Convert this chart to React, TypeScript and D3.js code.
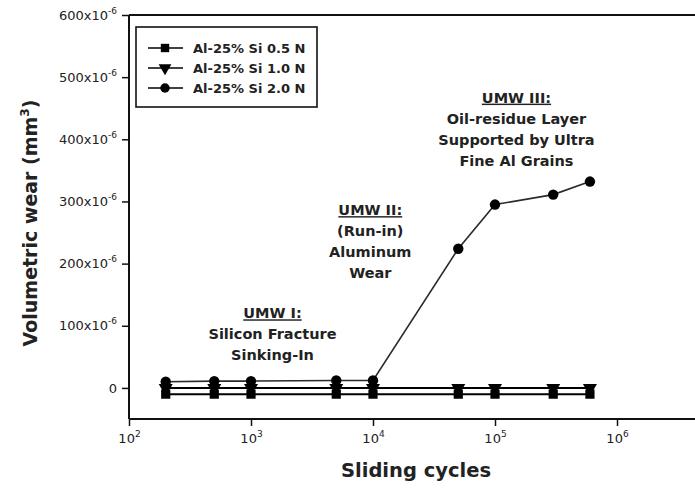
import { useEffect, useRef } from 'react';
import * as d3 from 'd3';

// sliding cycles and volumetric wear (in units of 10^-6 mm^3)
const cycles = [200, 500, 1000, 5000, 10000, 50000, 100000, 300000, 600000];
const wear05 = [-10, -10, -10, -10, -10, -10, -10, -10, -10];
const wear10 = [0, 0, 0, 0, 0, 0, 0, 0, 0];
const wear20 = [10, 11, 11, 12, 12, 224, 295, 311, 332];

const seriesNames = ['Al-25% Si 0.5 N', 'Al-25% Si 1.0 N', 'Al-25% Si 2.0 N'];
const yTicks = [0, 100, 200, 300, 400, 500, 600];
const xTicks = [1e2, 1e3, 1e4, 1e5, 1e6];
const xTickExp = ['2', '3', '4', '5', '6'];

const notes = [
  { x: 1500, y: 112, lines: ['UMW I:', 'Silicon Fracture', 'Sinking-In'] },
  { x: 9500, y: 278, lines: ['UMW II:', '(Run-in)', 'Aluminum', 'Wear'] },
  { x: 150000, y: 459, lines: ['UMW III:', 'Oil-residue Layer', 'Supported by Ultra', 'Fine Al Grains'] },
];

const FONT = '"DejaVu Sans", Arial, sans-serif';

export default function App() {
  const svgRef = useRef<SVGSVGElement>(null);
  const width = 695;
  const height = 488;

  useEffect(() => {
    if (!svgRef.current) return;
    const svg = d3.select(svgRef.current);
    svg.selectAll('*').remove();

    const left = 129;
    const top = 15;
    const bottom = 419;

    const x = d3.scaleLog().domain([1e2, 1e6]).range([left, 617]);
    const y = d3.scaleLinear().domain([-50, 600]).range([bottom, top]);

    // frame lines (plot runs past the right edge)
    const frame = svg.append('g').attr('stroke', '#111').attr('stroke-width', 2);
    frame.append('line').attr('x1', left).attr('x2', left).attr('y1', top).attr('y2', bottom);
    frame.append('line').attr('x1', left).attr('x2', width).attr('y1', bottom).attr('y2', bottom);
    frame.append('line').attr('x1', left).attr('x2', width).attr('y1', top).attr('y2', top);

    // y axis
    const yAxis = svg.append('g')
      .attr('transform', `translate(${left},0)`)
      .call(d3.axisLeft(y).tickValues(yTicks).tickSize(7).tickPadding(5).tickFormat(() => ''));
    yAxis.select('.domain').remove();
    yAxis.selectAll('line').attr('stroke', '#111').attr('stroke-width', 1.5);
    yAxis.selectAll<SVGTextElement, number>('text').each(function (d) {
      const t = d3.select(this)
        .attr('font-family', FONT)
        .attr('font-size', 13)
        .attr('fill', '#222');
      if (d === 0) {
        t.text('0');
      } else {
        t.append('tspan').text(`${d}x10`);
        t.append('tspan').attr('dy', -6).attr('font-size', 9).text('-6');
      }
    });

    // x axis
    const xAxis = svg.append('g')
      .attr('transform', `translate(0,${bottom})`)
      .call(d3.axisBottom(x).tickValues(xTicks).tickSize(7).tickPadding(8).tickFormat(() => ''));
    xAxis.select('.domain').remove();
    xAxis.selectAll('line').attr('stroke', '#111').attr('stroke-width', 1.5);
    xAxis.selectAll<SVGTextElement, number>('text').each(function (_, i) {
      const t = d3.select(this)
        .attr('font-family', FONT)
        .attr('font-size', 13)
        .attr('fill', '#222');
      t.append('tspan').text('10');
      t.append('tspan').attr('dy', -6).attr('font-size', 9).text(xTickExp[i]);
    });

    // axis titles
    svg.append('text')
      .attr('x', 416).attr('y', 477)
      .attr('text-anchor', 'middle')
      .attr('font-family', FONT).attr('font-weight', 'bold').attr('font-size', 19.5)
      .attr('fill', '#222')
      .text('Sliding cycles');

    const yTitle = svg.append('text')
      .attr('transform', `translate(37,${(top + bottom) / 2 + 6}) rotate(-90)`)
      .attr('text-anchor', 'middle')
      .attr('font-family', FONT).attr('font-weight', 'bold').attr('font-size', 19)
      .attr('fill', '#222');
    yTitle.append('tspan').text('Volumetric wear (mm');
    yTitle.append('tspan').attr('dy', -8).attr('font-size', 12).text('3');
    yTitle.append('tspan').attr('dy', 8).text(')');

    // series
    const series = [
      { values: wear05, symbol: d3.symbolSquare, rot: 0, color: '#000', width: 2 },
      { values: wear10, symbol: d3.symbolTriangle, rot: 180, color: '#000', width: 2 },
      { values: wear20, symbol: d3.symbolCircle, rot: 0, color: '#2a2a2a', width: 1.6 },
    ];

    const line = d3.line<number>()
      .x((_, i) => x(cycles[i]))
      .y(d => y(d));

    series.forEach(s => {
      svg.append('path')
        .attr('d', line(s.values))
        .attr('fill', 'none')
        .attr('stroke', s.color)
        .attr('stroke-width', s.width);
    });

    series.forEach(s => {
      const sym = d3.symbol().type(s.symbol).size(85);
      svg.append('g').selectAll('path')
        .data(s.values)
        .enter()
        .append('path')
        .attr('d', sym)
        .attr('transform', (d, i) => `translate(${x(cycles[i])},${y(d)}) rotate(${s.rot})`)
        .attr('fill', '#000');
    });

    // legend
    const legend = svg.append('g');
    legend.append('rect')
      .attr('x', 136).attr('y', 27).attr('width', 181).attr('height', 80)
      .attr('fill', '#fff').attr('stroke', '#111').attr('stroke-width', 1.6);

    series.forEach((s, i) => {
      const ly = 48 + i * 20;
      legend.append('line')
        .attr('x1', 148).attr('x2', 183).attr('y1', ly).attr('y2', ly)
        .attr('stroke', '#000').attr('stroke-width', 1.6);
      legend.append('path')
        .attr('d', d3.symbol().type(s.symbol).size(70))
        .attr('transform', `translate(165,${ly}) rotate(${s.rot})`)
        .attr('fill', '#000');
      legend.append('text')
        .attr('x', 193).attr('y', ly + 5)
        .attr('font-family', FONT).attr('font-weight', 'bold').attr('font-size', 13)
        .attr('fill', '#222')
        .text(seriesNames[i]);
    });

    // regime annotations
    notes.forEach(n => {
      const g = svg.append('g');
      n.lines.forEach((txt, i) => {
        g.append('text')
          .attr('x', x(n.x)).attr('y', y(n.y) + i * 21)
          .attr('text-anchor', 'middle')
          .attr('font-family', FONT).attr('font-weight', 'bold').attr('font-size', 14.5)
          .attr('fill', '#222')
          .attr('text-decoration', i === 0 ? 'underline' : null)
          .text(txt);
      });
    });
  }, []);

  return (
    <svg
      ref={svgRef}
      width={width}
      height={height}
      style={{ position: 'absolute', left: 0, top: 0, background: '#fff' }}
    />
  );
}
